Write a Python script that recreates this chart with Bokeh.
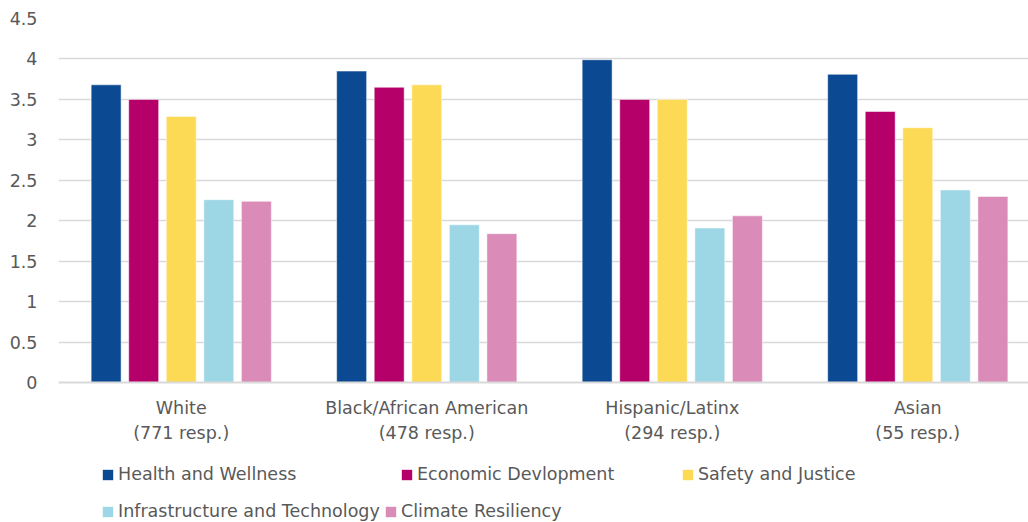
from bokeh.plotting import figure
from bokeh.layouts import column
from bokeh.models import ColumnDataSource, Range1d, FixedTicker, Legend, LegendItem
from bokeh.transform import dodge
from bokeh.embed import file_html
from bokeh.resources import INLINE

groups = ["White\n(771 resp.)", "Black/African American\n(478 resp.)",
          "Hispanic/Latinx\n(294 resp.)", "Asian\n(55 resp.)"]
series = ["Health and Wellness", "Economic Devlopment", "Safety and Justice",
          "Infrastructure and Technology", "Climate Resiliency"]
health = [3.68, 3.85, 3.99, 3.81]
economic = [3.50, 3.65, 3.50, 3.35]
safety = [3.29, 3.68, 3.50, 3.15]
infrastructure = [2.26, 1.95, 1.91, 2.38]
climate = [2.24, 1.84, 2.06, 2.30]
y_ticks = [0, 0.5, 1, 1.5, 2, 2.5, 3, 3.5, 4, 4.5]

colors = ["#0B4A92", "#B5006A", "#FDDA55", "#9DD7E6", "#DA8BB8"]
keys = ["health", "economic", "safety", "infrastructure", "climate"]
values = [health, economic, safety, infrastructure, climate]

source = ColumnDataSource(dict(x=list(range(len(groups))),
                               **{k: v for k, v in zip(keys, values)}))

FONT = "DejaVu Sans"
FS = "17.5px"
TXT = "#595959"

p = figure(width=1028, height=450, output_backend="svg", toolbar_location=None,
           x_range=Range1d(-0.5, 3.451), y_range=Range1d(0, 4.5),
           min_border_left=58, min_border_right=0, min_border_top=18,
           min_border_bottom=68)
p.outline_line_color = None

step = 0.153
bw = 0.122
for i, k in enumerate(keys):
    p.vbar(x=dodge("x", (i - 2) * step, range=p.x_range), top=k, width=bw,
           source=source, fill_color=colors[i], line_color="white",
           line_alpha=0.5, line_width=1)

# axes
p.xaxis.ticker = FixedTicker(ticks=list(range(len(groups))))
p.xaxis.major_label_overrides = {i: g for i, g in enumerate(groups)}
p.xaxis.axis_line_color = "#D9D9D9"
p.xaxis.axis_line_width = 2
p.xaxis.major_tick_line_color = None
p.xaxis.minor_tick_line_color = None
p.xaxis.major_label_text_font = FONT
p.xaxis.major_label_text_font_size = FS
p.xaxis.major_label_text_color = TXT
p.xaxis.major_label_text_line_height = 1.28
p.xaxis.major_label_standoff = 9

p.yaxis.ticker = FixedTicker(ticks=y_ticks)
p.yaxis.axis_line_color = None
p.yaxis.major_tick_line_color = None
p.yaxis.minor_tick_line_color = None
p.yaxis.major_label_text_font = FONT
p.yaxis.major_label_text_font_size = FS
p.yaxis.major_label_text_color = TXT
p.yaxis.major_label_standoff = 15

p.xgrid.grid_line_color = None
p.ygrid.grid_line_color = "#D9D9D9"
p.ygrid.grid_line_width = 1.5

# legend strip (its frame is aligned with the chart frame, left edge at 58px)
lg = figure(width=1028, height=72, output_backend="svg", toolbar_location=None,
            x_range=Range1d(0, 1), y_range=Range1d(0, 1),
            x_axis_location=None, y_axis_location=None,
            min_border=0)
lg.outline_line_color = None
lg.grid.visible = False
# legend swatches only: placed outside the visible range
dummies = [lg.vbar(x=[5], top=[0.5], width=0.1, fill_color=c, line_color=None)
           for c in colors]

legend_pos = [(43, 38), (342, 38), (623, 38), (43, 1), (326, 1)]
for name, r, loc in zip(series, dummies, legend_pos):
    lg.add_layout(Legend(items=[LegendItem(label=name, renderers=[r])],
                         location=loc, orientation="horizontal",
                         label_height=20, glyph_width=13, glyph_height=13,
                         label_standoff=4, label_text_font=FONT,
                         label_text_font_size=FS, label_text_color=TXT,
                         border_line_color=None, background_fill_alpha=0,
                         padding=0, margin=0), "center")

open("out.html", "w").write(file_html(column(p, lg, spacing=0), INLINE))
